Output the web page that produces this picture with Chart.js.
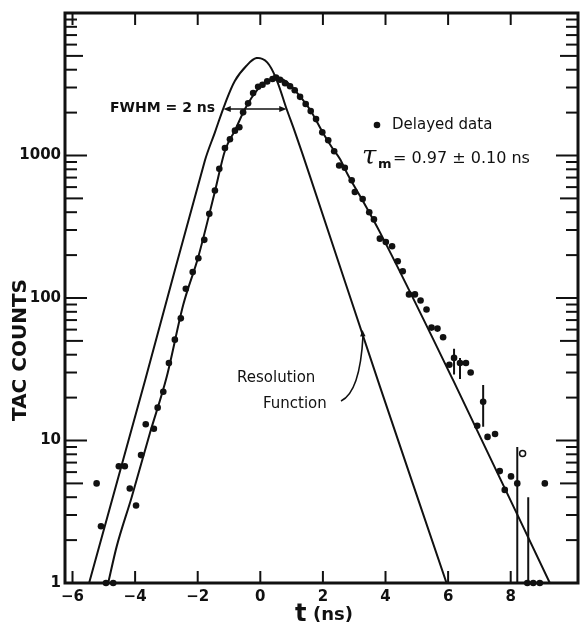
<!DOCTYPE html>
<html>
<head>
<meta charset="utf-8">
<title>TAC counts</title>
<script src="https://cdn.jsdelivr.net/npm/chart.js@4.4.1/dist/chart.umd.min.js"></script>
<style>
  html, body { margin: 0; padding: 0; background: #fff; }
</style>
</head>
<body>
<canvas id="grafik" width="580" height="632"></canvas>
<script>
// Delayed data: time (ns) and TAC counts (zero counts sit on the axis at 1)
const dataT = [-5.23, -5.09, -4.93, -4.70, -4.52, -4.33, -4.17, -3.97, -3.81, -3.66,
  -3.40, -3.28, -3.10, -2.92, -2.73, -2.54, -2.38, -2.16, -1.98, -1.79,
  -1.63, -1.45, -1.31, -1.13, -0.97, -0.81, -0.67, -0.55, -0.39, -0.23,
  -0.07, 0.07, 0.22, 0.39, 0.50, 0.63, 0.79, 0.95, 1.10, 1.27,
  1.45, 1.61, 1.78, 1.98, 2.17, 2.36, 2.52, 2.70, 2.92, 3.02,
  3.27, 3.48, 3.63, 3.82, 4.01, 4.21, 4.39, 4.55, 4.75, 4.94,
  5.12, 5.31, 5.47, 5.66, 5.84, 6.04, 6.19, 6.38, 6.57, 6.72,
  6.93, 7.12, 7.26, 7.50, 7.65, 7.81, 8.01, 8.21, 8.53, 8.72,
  8.93, 9.09];
const dataCounts = [5.0, 2.5, 1, 1, 6.6, 6.6, 4.6, 3.5, 7.9, 13,
  12.1, 17, 22, 35, 51, 72, 116, 152, 190, 256,
  390, 568, 806, 1130, 1300, 1494, 1577, 2008, 2322, 2744,
  3040, 3140, 3310, 3440, 3530, 3400, 3215, 3060, 2870, 2580,
  2300, 2050, 1800, 1454, 1280, 1070, 850, 820, 670, 555,
  495, 400, 356, 261, 247, 231, 181, 154, 106, 106,
  96, 83, 62, 61, 53, 34, 38, 35, 35, 30,
  12.7, 18.7, 10.6, 11.1, 6.1, 4.5, 5.6, 5.0, 1, 1,
  1, 5.0];

// One point drawn as an open circle
const openT = [8.38];
const openCounts = [8.1];

// Error bars
const errT = [6.19, 6.38, 7.12, 8.21, 8.56];
const errLow = [29, 27, 12.5, 1, 1];
const errHigh = [44, 38, 24.5, 9, 4];

// Fitted curve through the delayed data
const fitT = [-4.86, -4.59, -4.11, -3.53, -2.99, -2.46, -1.98, -1.45, -1.13, -0.81,
  -0.49, -0.07, 0.25, 0.52, 0.85, 1.27, 1.61, 1.98, 2.30, 2.54,
  2.81, 3.30, 3.82, 6.16, 9.25];
const fitCounts = [1, 1.8, 4.0, 11.2, 28, 90, 195, 560, 1080, 1500,
  2120, 2930, 3350, 3530, 3280, 2600, 2060, 1470, 1130, 950,
  723, 470, 290, 26.5, 1];

// Resolution function
const resT = [-5.47, -3.68, -1.77, -1.45, -1.13, -0.81, -0.45, -0.12, 0.22, 0.52, 0.84,
  1.11, 1.58, 3.82, 5.95];
const resCounts = [1, 26.5, 921, 1454, 2297, 3350, 4250, 4830, 4500, 3400, 2120,
  1454, 723, 24, 1];

// Axis ticks
const xTicks = [-6, -4, -2, 0, 2, 4, 6, 8];
const yDecades = [1, 10, 100, 1000, 10000];
const yLabels = [1, 10, 100, 1000];

// FWHM arrow (t from, t to, counts)
const fwhmFrom = -1.18;
const fwhmTo = 0.84;
const fwhmLevel = 2120;

const ink = '#111';
const fontName = '"DejaVu Sans", sans-serif';

function toPoints(xs, ys) {
    return xs.map((x, i) => ({ x: x, y: ys[i] }));
}

const errPoints = [];
errT.forEach((t, i) => {
    errPoints.push({ x: t, y: errLow[i] }, { x: t, y: errHigh[i] }, { x: t, y: null });
});

function arrowHead(ctx, x, y, angle, size) {
    ctx.beginPath();
    ctx.moveTo(x, y);
    ctx.lineTo(x - size * Math.cos(angle - 0.4), y - size * Math.sin(angle - 0.4));
    ctx.lineTo(x - size * Math.cos(angle + 0.4), y - size * Math.sin(angle + 0.4));
    ctx.closePath();
    ctx.fill();
}

// Frame, inward ticks and the texts on the plot
const bingkai = {
    id: 'bingkai',
    afterDraw(chart) {
        const ctx = chart.ctx;
        const a = chart.chartArea;
        const x = chart.scales.x;
        const y = chart.scales.y;
        ctx.save();
        ctx.strokeStyle = ink;
        ctx.fillStyle = ink;
        ctx.lineCap = 'butt';

        const line = (x1, y1, x2, y2) => {
            ctx.beginPath();
            ctx.moveTo(x1, y1);
            ctx.lineTo(x2, y2);
            ctx.stroke();
        };

        ctx.lineWidth = 2;
        xTicks.forEach(v => {
            const px = x.getPixelForValue(v);
            line(px, a.bottom, px, a.bottom - 12);
            line(px, a.top, px, a.top + 12);
        });
        yDecades.forEach((d, k) => {
            const py = y.getPixelForValue(d);
            line(a.left, py, a.left + 22, py);
            line(a.right, py, a.right - 22, py);
            if (k === yDecades.length - 1) return;
            for (let m = 2; m <= 9; m++) {
                const pm = y.getPixelForValue(d * m);
                const len = m === 5 ? 18 : 12;
                line(a.left, pm, a.left + len, pm);
                line(a.right, pm, a.right - len, pm);
            }
        });

        ctx.lineWidth = 3;
        ctx.strokeRect(a.left, a.top, a.right - a.left, a.bottom - a.top);

        // FWHM arrow
        ctx.lineWidth = 1.6;
        const fy = y.getPixelForValue(fwhmLevel);
        const fx1 = x.getPixelForValue(fwhmFrom);
        const fx2 = x.getPixelForValue(fwhmTo);
        line(fx1 + 4, fy, fx2 - 4, fy);
        arrowHead(ctx, fx1, fy, Math.PI, 8);
        arrowHead(ctx, fx2, fy, 0, 8);

        ctx.textBaseline = 'middle';
        ctx.textAlign = 'left';
        ctx.font = 'bold 14px ' + fontName;
        ctx.fillText('FWHM = 2 ns', 110, 108);

        // legend
        ctx.beginPath();
        ctx.arc(377, 125, 3.3, 0, Math.PI * 2);
        ctx.fill();
        ctx.font = '15px ' + fontName;
        ctx.fillText('Delayed data', 392, 125);

        ctx.textBaseline = 'alphabetic';
        ctx.font = 'italic 26px "DejaVu Serif", serif';
        ctx.fillText('τ', 362, 164);
        ctx.font = 'bold 13px ' + fontName;
        ctx.fillText('m', 378, 168);
        ctx.font = '16px ' + fontName;
        ctx.fillText('= 0.97 ± 0.10 ns', 393, 163);

        // resolution label with leader
        ctx.textBaseline = 'middle';
        ctx.font = '15px ' + fontName;
        ctx.fillText('Resolution', 237, 378);
        ctx.fillText('Function', 263, 404);
        ctx.lineWidth = 1.6;
        ctx.beginPath();
        ctx.moveTo(341, 401);
        ctx.quadraticCurveTo(360, 392, 363, 336);
        ctx.stroke();
        arrowHead(ctx, 362.5, 330, -Math.PI / 2 - 0.05, 7);

        // axis titles
        ctx.font = 'bold 20px ' + fontName;
        ctx.textAlign = 'center';
        ctx.save();
        ctx.translate(21, 350);
        ctx.rotate(-Math.PI / 2);
        ctx.fillText('TAC COUNTS', 0, 0);
        ctx.restore();

        ctx.textAlign = 'left';
        ctx.textBaseline = 'alphabetic';
        ctx.font = 'bold 24px ' + fontName;
        ctx.fillText('t', 295, 621);
        ctx.font = 'bold 18px ' + fontName;
        ctx.fillText('(ns)', 313, 620);
        ctx.restore();
    }
};

const ctx = document.getElementById('grafik').getContext('2d');
window.chart = new Chart(ctx, {
    type: 'line',
    data: {
        datasets: [
            {
                label: 'Delayed data',
                data: toPoints(dataT, dataCounts),
                showLine: false,
                pointRadius: 3.3,
                pointBackgroundColor: ink,
                pointBorderWidth: 0,
                clip: false
            },
            {
                data: toPoints(openT, openCounts),
                showLine: false,
                pointRadius: 3,
                pointBackgroundColor: '#fff',
                pointBorderColor: ink,
                pointBorderWidth: 1.5,
                clip: false
            },
            {
                data: errPoints,
                borderColor: ink,
                borderWidth: 2,
                pointRadius: 0,
                spanGaps: false
            },
            {
                label: 'Fit',
                data: toPoints(fitT, fitCounts),
                borderColor: ink,
                borderWidth: 2,
                pointRadius: 0,
                cubicInterpolationMode: 'monotone'
            },
            {
                label: 'Resolution Function',
                data: toPoints(resT, resCounts),
                borderColor: ink,
                borderWidth: 2,
                pointRadius: 0,
                tension: 0.35
            }
        ]
    },
    options: {
        responsive: false,
        animation: false,
        devicePixelRatio: 1,
        layout: { autoPadding: false, padding: { top: 13, right: 2, left: 0, bottom: 0 } },
        plugins: { legend: { display: false }, tooltip: { enabled: false } },
        scales: {
            x: {
                type: 'linear',
                min: -6.24,
                max: 10.15,
                grid: { display: false, drawTicks: false },
                border: { display: false },
                ticks: {
                    color: ink,
                    padding: 5,
                    autoSkip: false,
                    maxRotation: 0,
                    font: { family: fontName, size: 15, weight: 'bold' },
                    callback: v => (v < 0 ? '\u2212' + Math.abs(v) : String(v))
                },
                afterBuildTicks: s => { s.ticks = xTicks.map(v => ({ value: v })); },
                afterFit: s => {
                    s.height = 49;
                    s.paddingLeft = 0;
                    s.paddingRight = 0;
                }
            },
            y: {
                type: 'logarithmic',
                min: 1,
                max: 10000,
                grid: { display: false, drawTicks: false },
                border: { display: false },
                ticks: {
                    color: ink,
                    padding: 4,
                    autoSkip: false,
                    font: { family: fontName, size: 15, weight: 'bold' },
                    callback: v => (yLabels.includes(v) ? String(v) : '')
                },
                afterBuildTicks: s => { s.ticks = yDecades.map(v => ({ value: v })); },
                afterFit: s => {
                    s.width = 65;
                    s.paddingTop = 0;
                    s.paddingBottom = 0;
                }
            }
        }
    },
    plugins: [bingkai]
});
</script>
</body>
</html>
